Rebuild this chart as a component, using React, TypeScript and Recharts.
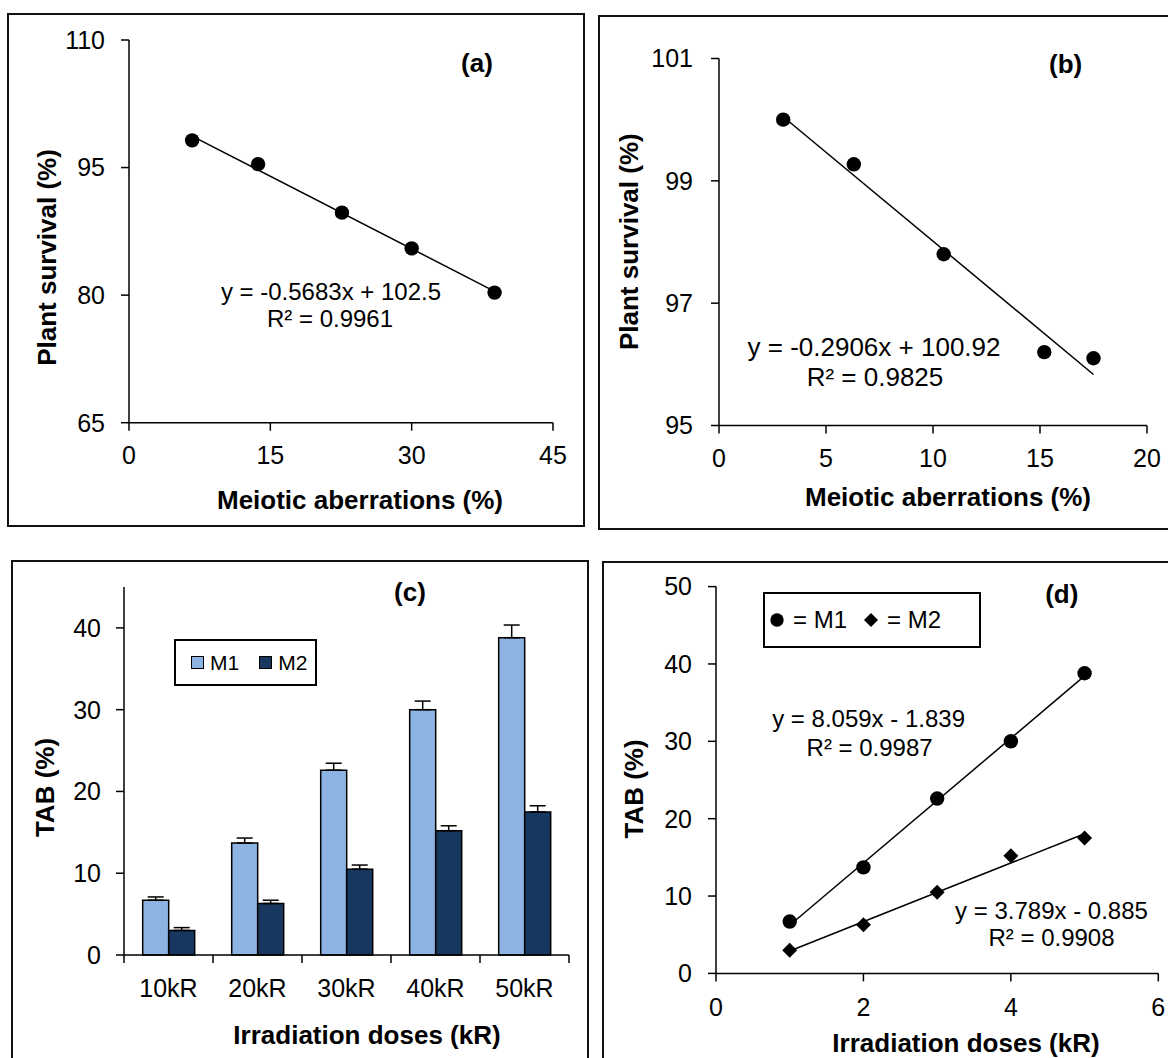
import React from 'react';
import { ComposedChart, BarChart, XAxis, YAxis, Scatter, Line, Bar, ErrorBar, Legend, Customized } from 'recharts';

const FONT = '"Liberation Sans", Arial, Helvetica, sans-serif';
const INK = '#000';
const M1_FILL = '#8db3e2';
const M2_FILL = '#17375e';

// ---------- Panel (a): plant survival vs meiotic aberrations (M1) ----------
const aberrationsA = [6.7, 13.7, 22.6, 30.0, 38.8];
const survivalA = [98.2, 95.4, 89.7, 85.5, 80.3];
const fitA = { slope: -0.5683, intercept: 102.5 };
const eqA = ['y = -0.5683x + 102.5', 'R² = 0.9961'];
const xTicksA = [0, 15, 30, 45];
const yTicksA = [65, 80, 95, 110];

// ---------- Panel (b): plant survival vs meiotic aberrations (M2) ----------
const aberrationsB = [3.0, 6.3, 10.5, 15.2, 17.5];
const survivalB = [100.0, 99.27, 97.8, 96.2, 96.1];
const fitB = { slope: -0.2906, intercept: 100.92 };
const eqB = ['y = -0.2906x + 100.92', 'R² = 0.9825'];
const xTicksB = [0, 5, 10, 15, 20];
const yTicksB = [95, 97, 99, 101];

// ---------- Panel (c): TAB bars ----------
const doseLabels = ['10kR', '20kR', '30kR', '40kR', '50kR'];
const tabM1 = [6.7, 13.7, 22.6, 30.0, 38.8];
const tabM2 = [3.0, 6.3, 10.5, 15.2, 17.5];
const errM1 = [0.4, 0.6, 0.85, 1.05, 1.55];
const errM2 = [0.35, 0.4, 0.5, 0.6, 0.75];
const yTicksC = [0, 10, 20, 30, 40];

// ---------- Panel (d): TAB vs dose ----------
const doses = [1, 2, 3, 4, 5];
const fitM1 = { slope: 8.059, intercept: -1.839 };
const fitM2 = { slope: 3.789, intercept: -0.885 };
const eqM1 = ['y = 8.059x - 1.839', 'R² = 0.9987'];
const eqM2 = ['y = 3.789x - 0.885', 'R² = 0.9908'];
const xTicksD = [0, 2, 4, 6];
const yTicksD = [0, 10, 20, 30, 40, 50];

const seriesNames = ['M1', 'M2'];

// ---------- helpers ----------
const toPoints = (xs: number[], ys: number[]) => xs.map((x, i) => ({ x, y: ys[i] }));
const fitLine = (xs: number[], fit: { slope: number; intercept: number }) => {
  const lo = Math.min(...xs);
  const hi = Math.max(...xs);
  return [
    { x: lo, y: fit.slope * lo + fit.intercept },
    { x: hi, y: fit.slope * hi + fit.intercept },
  ];
};

const barData = doseLabels.map((dose, i) => ({
  dose,
  M1: tabM1[i],
  M2: tabM2[i],
  e1: [0, errM1[i]],
  e2: [0, errM2[i]],
}));

const axisStroke = { stroke: INK, strokeWidth: 1.5 };
const tickText = { fill: INK, fontSize: 25, fontFamily: FONT };

type TxtProps = { x: number; y: number; size?: number; bold?: boolean; rotate?: boolean; children: React.ReactNode };
const Txt = ({ x, y, size = 25, bold = false, rotate = false, children }: TxtProps) => (
  <text
    x={x}
    y={y}
    textAnchor="middle"
    dominantBaseline="central"
    fontFamily={FONT}
    fontSize={size}
    fontWeight={bold ? 700 : 400}
    fill={INK}
    transform={rotate ? `rotate(-90 ${x} ${y})` : undefined}
  >
    {children}
  </text>
);

const DotShape = (p: any) => <circle cx={p.cx} cy={p.cy} r={7.2} fill={INK} />;
const DiamondShape = (p: any) => (
  <path
    d={`M${p.cx},${p.cy - 7.5} L${p.cx + 7.5},${p.cy} L${p.cx},${p.cy + 7.5} L${p.cx - 7.5},${p.cy} Z`}
    fill={INK}
  />
);

// bar chart plot geometry (used for boundary tick fallback)
const C_W = 590, C_H = 528;
const C_MARGIN = { top: 57, right: 21, bottom: 63, left: 64 };
const C_YW = 60;
const bandHalfC = (C_W - C_MARGIN.left - C_YW - C_MARGIN.right) / doseLabels.length / 2;

const DoseTick = (props: any) => {
  const { x, y, payload, index, visibleTicksCount } = props;
  const half = payload && payload.offset > 5 ? payload.offset : bandHalfC;
  const axisY = y - 16 - 8;
  return (
    <g>
      <line x1={x - half} y1={axisY} x2={x - half} y2={axisY + 8} stroke={INK} strokeWidth={1.5} />
      {index === visibleTicksCount - 1 && (
        <line x1={x + half} y1={axisY} x2={x + half} y2={axisY + 8} stroke={INK} strokeWidth={1.5} />
      )}
      <text x={x} y={y} dy="0.71em" textAnchor="middle" fill={INK} fontSize={25} fontFamily={FONT}>
        {payload.value}
      </text>
    </g>
  );
};

const LegendC = (props: any) => {
  const items = (props.payload || []).filter((p: any) => p.type !== 'none');
  return (
    <div
      style={{
        boxSizing: 'border-box',
        width: 143,
        height: 47,
        border: '2px solid #000',
        background: '#fff',
        display: 'flex',
        alignItems: 'center',
        paddingLeft: 15,
        fontFamily: FONT,
        fontSize: 21,
        color: INK,
        whiteSpace: 'nowrap',
        lineHeight: 1,
      }}
    >
      {items.map((p: any, i: number) => (
        <span key={i} style={{ display: 'flex', alignItems: 'center', marginRight: i === 0 ? 20 : 0 }}>
          <span
            style={{
              boxSizing: 'border-box',
              display: 'inline-block',
              width: 13,
              height: 13,
              background: p.color,
              border: '1.5px solid #000',
            }}
          />
          <span style={{ marginLeft: 6 }}>{p.value}</span>
        </span>
      ))}
    </div>
  );
};

const LegendD = (props: any) => {
  const items = (props.payload || []).filter((p: any) => p.type !== 'none');
  return (
    <div
      style={{
        boxSizing: 'border-box',
        width: 218,
        height: 56,
        border: '2px solid #000',
        background: '#fff',
        display: 'flex',
        alignItems: 'center',
        paddingLeft: 4,
        fontFamily: FONT,
        fontSize: 24,
        color: INK,
        whiteSpace: 'nowrap',
        lineHeight: 1,
      }}
    >
      {items.map((p: any, i: number) => (
        <span key={i} style={{ display: 'flex', alignItems: 'center', marginRight: i === 0 ? 16 : 0 }}>
          <svg width={16} height={16} style={{ display: 'block' }}>
            {p.value === seriesNames[0] ? (
              <circle cx={8} cy={8} r={6.7} fill={INK} />
            ) : (
              <path d="M8,1 L15,8 L8,15 L1,8 Z" fill={INK} />
            )}
          </svg>
          <span style={{ marginLeft: 8 }}>= {p.value}</span>
        </span>
      ))}
    </div>
  );
};

const Panel = ({ left, top, width, height, children }: any) => (
  <div style={{ position: 'absolute', left, top, width, height }}>{children}</div>
);

const Border = ({ left, top, width, height }: any) => (
  <div
    style={{
      position: 'absolute',
      left,
      top,
      width,
      height,
      boxSizing: 'border-box',
      border: '2px solid #111',
    }}
  />
);

export default function App() {
  return (
    <div
      style={{
        position: 'absolute',
        left: 0,
        top: 0,
        width: 1168,
        height: 1058,
        overflow: 'hidden',
        background: '#fff',
        fontFamily: FONT,
      }}
    >
      <Border left={7} top={13} width={578} height={514} />
      <Border left={598} top={15} width={620} height={515} />
      <Border left={11} top={560} width={578} height={600} />
      <Border left={602} top={561} width={620} height={600} />

      {/* (a) */}
      <Panel left={0} top={0} width={590} height={530}>
        <ComposedChart width={590} height={530} margin={{ top: 40, right: 37, bottom: 67.3, left: 69 }}>
          <XAxis type="number" dataKey="x" domain={[0, 45]} ticks={xTicksA} interval={0} height={40}
            tickSize={8} tickMargin={16} axisLine={axisStroke} tickLine={axisStroke} tick={tickText} />
          <YAxis type="number" domain={[65, 110]} ticks={yTicksA} interval={0} width={60}
            tickSize={8} tickMargin={16} axisLine={axisStroke} tickLine={axisStroke} tick={tickText} />
          <Line data={fitLine(aberrationsA, fitA)} dataKey="y" stroke={INK} strokeWidth={1.5}
            dot={false} activeDot={false} isAnimationActive={false} legendType="none" />
          <Scatter data={toPoints(aberrationsA, survivalA)} dataKey="y" shape={DotShape} isAnimationActive={false} />
          <Customized
            component={() => (
              <g>
                <Txt x={477} y={62.5} size={26} bold>(a)</Txt>
                <Txt x={331} y={291} size={24}>{eqA[0]}</Txt>
                <Txt x={330} y={318} size={24}>{eqA[1]}</Txt>
                <Txt x={360} y={500} size={26} bold>Meiotic aberrations (%)</Txt>
                <Txt x={47} y={257.5} size={26} bold rotate>Plant survival (%)</Txt>
              </g>
            )}
          />
        </ComposedChart>
      </Panel>

      {/* (b) */}
      <Panel left={590} top={0} width={578} height={530}>
        <ComposedChart width={578} height={530} margin={{ top: 58.5, right: 21, bottom: 64.5, left: 69 }}>
          <XAxis type="number" dataKey="x" domain={[0, 20]} ticks={xTicksB} interval={0} height={40}
            tickSize={8} tickMargin={16} axisLine={axisStroke} tickLine={axisStroke} tick={tickText} />
          <YAxis type="number" domain={[95, 101]} ticks={yTicksB} interval={0} width={60}
            tickSize={8} tickMargin={18} axisLine={axisStroke} tickLine={axisStroke} tick={tickText} />
          <Line data={fitLine(aberrationsB, fitB)} dataKey="y" stroke={INK} strokeWidth={1.5}
            dot={false} activeDot={false} isAnimationActive={false} legendType="none" />
          <Scatter data={toPoints(aberrationsB, survivalB)} dataKey="y" shape={DotShape} isAnimationActive={false} />
          <Customized
            component={() => (
              <g>
                <Txt x={475.6} y={64} size={26} bold>(b)</Txt>
                <Txt x={284} y={346.5} size={26}>{eqB[0]}</Txt>
                <Txt x={285} y={377} size={26}>{eqB[1]}</Txt>
                <Txt x={358} y={497} size={26} bold>Meiotic aberrations (%)</Txt>
                <Txt x={38.7} y={241.7} size={26} bold rotate>Plant survival (%)</Txt>
              </g>
            )}
          />
        </ComposedChart>
      </Panel>

      {/* (c) */}
      <Panel left={0} top={530} width={C_W} height={C_H}>
        <BarChart width={C_W} height={C_H} data={barData} margin={C_MARGIN} barCategoryGap="21%" barGap={0}>
          <XAxis dataKey="dose" type="category" interval={0} height={40} tickSize={8} tickMargin={16}
            axisLine={axisStroke} tickLine={false} tick={<DoseTick />} />
          <YAxis type="number" domain={[0, 45]} ticks={yTicksC} interval={0} width={C_YW}
            tickSize={8} tickMargin={15} axisLine={axisStroke} tickLine={axisStroke} tick={tickText} />
          <Bar dataKey="M1" name={seriesNames[0]} fill={M1_FILL} stroke={INK} strokeWidth={1.5} isAnimationActive={false}>
            <ErrorBar dataKey="e1" width={8} stroke={INK} strokeWidth={1.5} direction="y" />
          </Bar>
          <Bar dataKey="M2" name={seriesNames[1]} fill={M2_FILL} stroke={INK} strokeWidth={1.5} isAnimationActive={false}>
            <ErrorBar dataKey="e2" width={8} stroke={INK} strokeWidth={1.5} direction="y" />
          </Bar>
          <Legend layout="vertical" verticalAlign="middle" align="center" content={<LegendC />}
            wrapperStyle={{ left: 174, top: 109, width: 143, height: 47 }} />
          <Customized
            component={() => (
              <g>
                <Txt x={410} y={62} size={26} bold>(c)</Txt>
                <Txt x={367} y={505} size={26} bold>Irradiation doses (kR)</Txt>
                <Txt x={45} y={257.5} size={26} bold rotate>TAB (%)</Txt>
              </g>
            )}
          />
        </BarChart>
      </Panel>

      {/* (d) */}
      <Panel left={590} top={530} width={578} height={528}>
        <ComposedChart width={578} height={528} margin={{ top: 56.6, right: 9.7, bottom: 44.6, left: 66 }}>
          <XAxis type="number" dataKey="x" domain={[0, 6]} ticks={xTicksD} interval={0} height={40}
            tickSize={8} tickMargin={17} axisLine={axisStroke} tickLine={axisStroke} tick={tickText} />
          <YAxis type="number" domain={[0, 50]} ticks={yTicksD} interval={0} width={60}
            tickSize={8} tickMargin={16} axisLine={axisStroke} tickLine={axisStroke} tick={tickText} />
          <Line data={fitLine(doses, fitM1)} dataKey="y" stroke={INK} strokeWidth={1.5}
            dot={false} activeDot={false} isAnimationActive={false} legendType="none" />
          <Line data={fitLine(doses, fitM2)} dataKey="y" stroke={INK} strokeWidth={1.5}
            dot={false} activeDot={false} isAnimationActive={false} legendType="none" />
          <Scatter name={seriesNames[0]} data={toPoints(doses, tabM1)} dataKey="y" shape={DotShape} isAnimationActive={false} />
          <Scatter name={seriesNames[1]} data={toPoints(doses, tabM2)} dataKey="y" shape={DiamondShape} isAnimationActive={false} />
          <Legend layout="vertical" verticalAlign="middle" align="center" content={<LegendD />}
            wrapperStyle={{ left: 173, top: 62, width: 218, height: 56 }} />
          <Customized
            component={() => (
              <g>
                <Txt x={471.8} y={64} size={26} bold>(d)</Txt>
                <Txt x={278.6} y={188.5} size={24}>{eqM1[0]}</Txt>
                <Txt x={279.6} y={217} size={24}>{eqM1[1]}</Txt>
                <Txt x={461.5} y={380.5} size={24}>{eqM2[0]}</Txt>
                <Txt x={461.5} y={407.4} size={24}>{eqM2[1]}</Txt>
                <Txt x={376} y={513} size={26} bold>Irradiation doses (kR)</Txt>
                <Txt x={44.4} y={259} size={26} bold rotate>TAB (%)</Txt>
              </g>
            )}
          />
        </ComposedChart>
      </Panel>
    </div>
  );
}
